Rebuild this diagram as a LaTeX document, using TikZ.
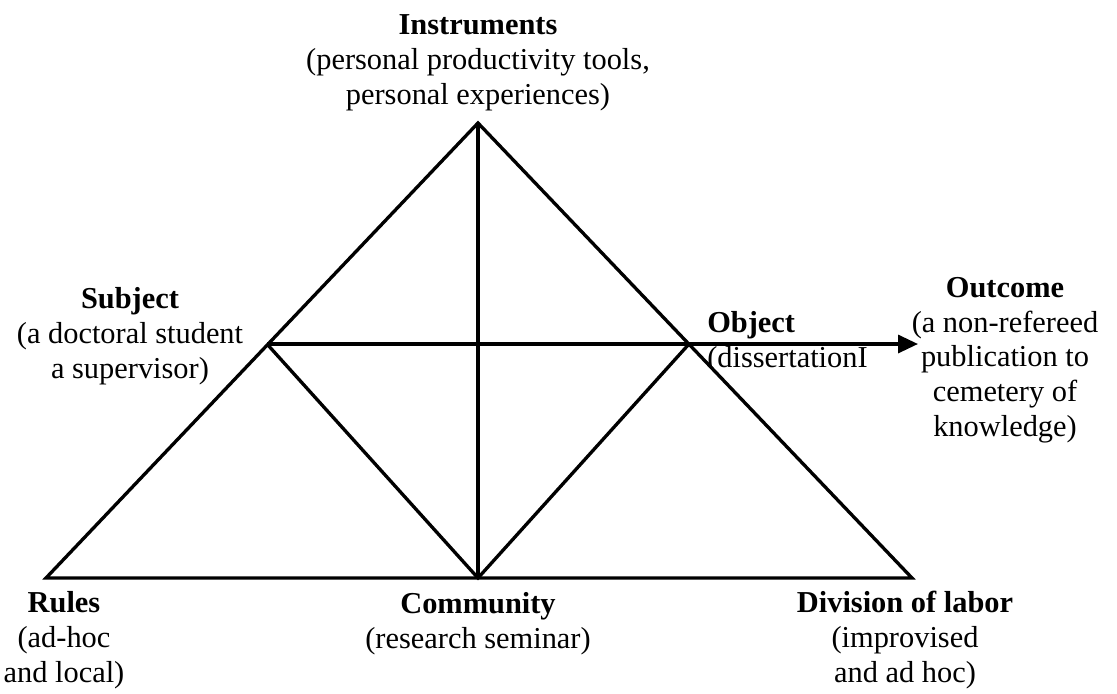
\documentclass[tikz,border=0pt]{standalone}
\usepackage{fontspec}
\setmainfont{Liberation Serif}
\usepackage{tikz}
\usetikzlibrary{arrows.meta,positioning}
\tikzstyle{edge} = [line width=2.5pt, line join=miter]
\tikzstyle{flow} = [edge, -{Triangle[length=15pt,width=13.5pt]}]
\tikzstyle{rolebox} = [align=center, inner sep=0pt, anchor=base, font=\fontsize{22.8}{25.9}\selectfont]

\begin{document}
\begin{tikzpicture}[x=0.75pt, y=-0.75pt]
	\useasboundingbox (0,0) rectangle (1117,693);
	% corners of the activity triangle
	\coordinate (instr) at (478,123);
	\coordinate (subj) at (267,344);
	\coordinate (obj) at (689,344);
	\coordinate (rul) at (46,578);
	\coordinate (comm) at (478,578);
	\coordinate (div) at (912,578);
	\coordinate (outc) at (918,344);
	
	\draw[edge] (rul) -- (instr) -- (div) -- cycle;
	\draw[edge] (instr) -- (comm);
	\draw[edge] (subj) -- (obj);
	\draw[edge] (subj) -- (comm) -- (obj);
	\draw[flow] (obj) -- (outc);
	
	% texts (base = baseline of the last line)
	\node[rolebox] (instrtxt) at (478,104) {\textbf{Instruments}\\(personal productivity tools,\\personal experiences)};
	\node[rolebox] (subjtxt) at (130,378) {\textbf{Subject}\\(a doctoral student\\a supervisor)};
	\node[rolebox, anchor=base west, align=left] (objtxt) at (707,367) {\textbf{Object}\\(dissertationI};
	\node[rolebox] (outctxt) at (1005,436) {\textbf{Outcome}\\(a non-refereed\\publication to\\cemetery of\\knowledge)};
	\node[rolebox] (rultxt) at (64,682) {\textbf{Rules}\\(ad-hoc\\and local)};
	\node[rolebox] (commtxt) at (478,648) {\textbf{Community}\\(research seminar)};
	\node[rolebox] (divtxt) at (905,682) {\textbf{Division of labor}\\(improvised\\and ad hoc)};
\end{tikzpicture}
\end{document}
